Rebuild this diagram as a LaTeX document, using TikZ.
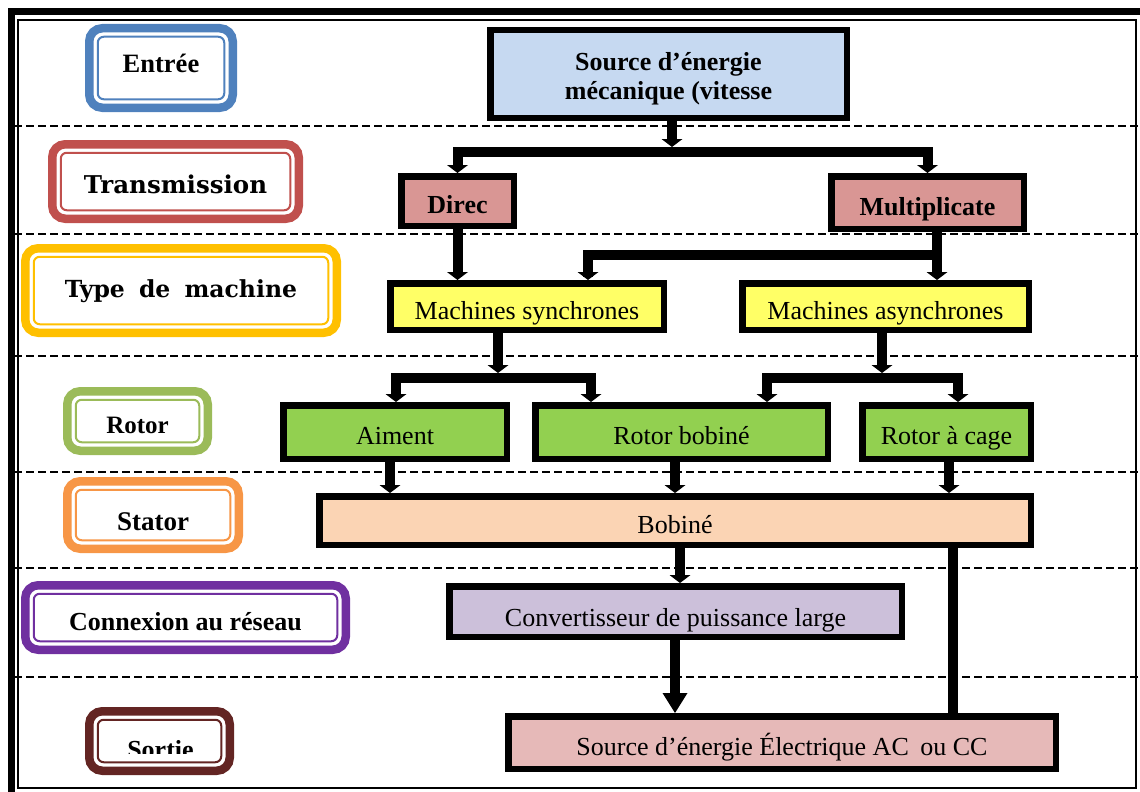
\documentclass[tikz,border=0pt]{standalone}
\usepackage{fontspec}
\setmainfont{Liberation Serif}
\newfontfamily\dvsf{DejaVu Serif}
\usetikzlibrary{arrows.meta}
\definecolor{cEnt}{HTML}{4F81BD}
\definecolor{cTra}{HTML}{C0504D}
\definecolor{cTyp}{HTML}{FFC000}
\definecolor{cRot}{HTML}{9BBB59}
\definecolor{cSta}{HTML}{F79646}
\definecolor{cCon}{HTML}{7030A0}
\definecolor{cSor}{HTML}{632523}
\definecolor{fSrc}{HTML}{C6D9F1}
\definecolor{fTra}{HTML}{D99694}
\definecolor{fMac}{HTML}{FFFF66}
\definecolor{fRot}{HTML}{92D050}
\definecolor{fBob}{HTML}{FBD4B4}
\definecolor{fCon}{HTML}{CCC0DA}
\definecolor{fOut}{HTML}{E6B9B8}
\newcommand{\innerline}[2]{\draw[#2, line width=2pt, rounded corners=6pt] ([xshift=8.5pt,yshift=-8.5pt]#1.north west) rectangle ([xshift=-8.5pt,yshift=8.5pt]#1.south east);}
\begin{document}
\begin{tikzpicture}[x=1pt,y=-1pt,
 boxbase/.style={draw=black, line width=6.5pt, inner sep=0pt, font=\fontsize{26pt}{29pt}\selectfont},
 rbox/.style={boxbase, text height=25pt, text depth=0pt},
 lblbox/.style={draw=#1, line width=8.5pt, rounded corners=13pt, outer sep=0pt, inner sep=0pt, fill=white, text depth=0pt},
 conn/.style={line width=10pt, line join=miter},
 tipS/.style={-{Triangle[width=21pt,length=8pt,line width=0pt]}},
 tipB/.style={{Triangle[width=21pt,length=8pt,line width=0pt]}-{Triangle[width=21pt,length=8pt,line width=0pt]}},
 tipL/.style={-{Triangle[width=25pt,length=20pt,line width=0pt]}},
 dashline/.style={line width=1.3pt, dash pattern=on 8pt off 4pt},
]
\useasboundingbox (0,0) rectangle (1140,792);
% frame
\draw[line width=1.3pt] (18,20) rectangle (1136,788);
\draw[line width=7pt, line join=miter] (11,792) -- (11,11.5) -- (1140,11.5);
% dashed separators
\foreach \yy in {126,234,356,472,568,677} \draw[dashline] (14,\yy) -- (1140,\yy);

% left labels
\node[lblbox=cEnt, minimum width=143.5pt, minimum height=79.5pt, text height=10pt, font=\bfseries\fontsize{26.5pt}{26pt}\selectfont] (lEnt) at (161,68) {Entrée};
\innerline{lEnt}{cEnt}
\node[lblbox=cTra, minimum width=246.5pt, minimum height=74.5pt, text height=23pt, font=\dvsf\bfseries\fontsize{24.5pt}{26pt}\selectfont] (lTra) at (175.5,181.5) {Transmission};
\innerline{lTra}{cTra}
\node[lblbox=cTyp, minimum width=311.5pt, minimum height=84.5pt, text height=13pt, font=\dvsf\bfseries\fontsize{23.5pt}{26pt}\selectfont] (lTyp) at (181,290.5) {Type\hspace{6pt} de\hspace{6pt} machine};
\innerline{lTyp}{cTyp}
\node[lblbox=cRot, minimum width=140.5pt, minimum height=59.5pt, text height=24pt, font=\bfseries\fontsize{25pt}{26pt}\selectfont] (lRot) at (137.5,421) {Rotor};
\innerline{lRot}{cRot}
\node[lblbox=cSta, minimum width=171.5pt, minimum height=67.5pt, text height=30pt, font=\bfseries\fontsize{27pt}{28pt}\selectfont] (lSta) at (153,515) {Stator};
\innerline{lSta}{cSta}
\node[lblbox=cCon, minimum width=320.5pt, minimum height=64.5pt, text height=25pt, font=\bfseries\fontsize{26pt}{26pt}\selectfont] (lCon) at (185.5,617.5) {Connexion au réseau};
\innerline{lCon}{cCon}
\node[lblbox=cSor, minimum width=140.5pt, minimum height=59.5pt] (lSor) at (159.5,741) {};
\innerline{lSor}{cSor}
\begin{scope}
\clip (90,700) rectangle (230,753);
\node[anchor=base, inner sep=0pt, font=\bfseries\fontsize{26pt}{26pt}\selectfont] (lSorT) at (160.5,758) {Sortie};
\end{scope}

% right boxes
\node[boxbase, fill=fSrc, minimum width=356.5pt, minimum height=87.5pt, font=\bfseries\fontsize{26pt}{29pt}\selectfont] (src) at (668.5,74) {\raisebox{-5pt}[\height][\depth]{\begin{tabular}{@{}c@{}}Source d’énergie\\mécanique (vitesse\end{tabular}}};
\node[rbox, fill=fTra, minimum width=112.5pt, minimum height=49.5pt, font=\bfseries\fontsize{26pt}{29pt}\selectfont] (direc) at (457.5,201) {Direc};
\node[rbox, fill=fTra, minimum width=192.5pt, minimum height=52.5pt, font=\bfseries\fontsize{26pt}{29pt}\selectfont] (mult) at (927.5,202.5) {Multiplicate};
\node[rbox, fill=fMac, minimum width=273.5pt, minimum height=46.5pt] (msync) at (527,306.5) {Machines synchrones};
\node[rbox, fill=fMac, minimum width=286.5pt, minimum height=46.5pt] (masync) at (885.5,306.5) {Machines asynchrones};
\node[rbox, fill=fRot, minimum width=223.5pt, minimum height=53.5pt] (aim) at (395,432) {Aiment};
\node[rbox, fill=fRot, minimum width=292.5pt, minimum height=53.5pt] (rbob) at (681.5,432) {Rotor bobiné};
\node[rbox, fill=fRot, minimum width=168.5pt, minimum height=53.5pt] (rcage) at (946.5,432) {Rotor à cage};
\node[rbox, fill=fBob, minimum width=711.5pt, minimum height=48.5pt] (bob) at (675,520.5) {Bobiné};
\node[rbox, fill=fCon, minimum width=452.5pt, minimum height=50.5pt, text height=29pt] (conv) at (675.5,611.5) {Convertisseur de puissance large};
\node[rbox, fill=fOut, minimum width=547.5pt, minimum height=52.5pt] (elec) at (782,742.5) {Source d’énergie Électrique AC\hspace{5pt} ou CC};

% connectors
\coordinate (j1) at (672,152);
\coordinate (j1t) at (672,147);
\draw[conn,tipS] (src.south -| j1) -- (j1t);
\draw[conn,tipB] (direc.north) |- (j1) -| (mult.north);
\draw[conn,tipS] (direc.south) -- (direc.south |- msync.north);
\coordinate (m2) at (937,255);
\coordinate (s2) at (588,255);
\draw[conn,tipS] (mult.south -| m2) -- (masync.north -| m2);
\draw[conn,tipS,line cap=rect] (m2) -- (s2) -- (msync.north -| s2);

\coordinate (j2) at (498,378);
\coordinate (j2t) at (498,373);
\draw[conn,tipS] (msync.south -| j2) -- (j2t);
\coordinate (a2) at (396,378);
\coordinate (r2) at (591,378);
\draw[conn,tipB] (aim.north -| a2) -- (a2) -- (r2) -- (rbob.north -| r2);

\coordinate (j3) at (882,378);
\coordinate (j3t) at (882,373);
\draw[conn,tipS] (masync.south -| j3) -- (j3t);
\coordinate (a3) at (767,378);
\coordinate (r3) at (958,378);
\draw[conn,tipB] (rbob.north -| a3) -- (a3) -- (r3) -- (rcage.north -| r3);

\coordinate (xa) at (390,0);
\coordinate (xb) at (675,0);
\coordinate (xg) at (949,0);
\draw[conn,tipS] (aim.south -| xa) -- (bob.north -| xa);
\draw[conn,tipS] (rbob.south -| xb) -- (bob.north -| xb);
\draw[conn,tipS] (rcage.south -| xg) -- (bob.north -| xg);

\coordinate (xc1) at (680,0);
\coordinate (xc2) at (675,0);
\coordinate (xc3) at (953,0);
\draw[conn,tipS] (bob.south -| xc1) -- (conv.north -| xc1);
\draw[conn,tipL] (conv.south -| xc2) -- (elec.north -| xc2);
\draw[conn] (bob.south -| xc3) -- (elec.north -| xc3);
\end{tikzpicture}
\end{document}
